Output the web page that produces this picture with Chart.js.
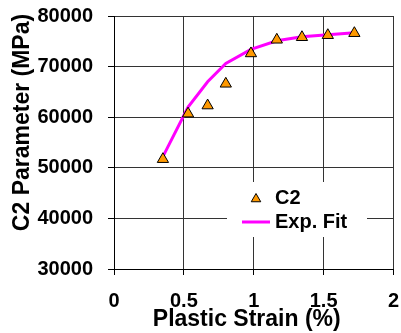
<!DOCTYPE html>
<html lang="en">
<head>
<meta charset="UTF-8">
<title>C2 Parameter vs Plastic Strain</title>
<script src="https://cdn.jsdelivr.net/npm/chart.js"></script>
<style>
  html,body{margin:0;padding:0;background:#fff;overflow:hidden}
  #wrap{width:401px;height:333px;position:relative}
</style>
</head>
<body>
<div id="wrap"><canvas id="chart"></canvas></div>
<script>
// plastic strain (%) and measured C2 (MPa)
const strain=[0.35,0.53,0.67,0.80,0.98,1.165,1.345,1.53,1.72];
const c2Values=[51700,60700,62300,66600,72600,75300,75800,76200,76600];
// exponential fit evaluated at the same strains
const fitValues=[52200,62000,67000,70600,73400,75100,75900,76300,76700];

const xTicks=[0,0.5,1,1.5,2];
const yTicks=[30000,40000,50000,60000,70000,80000];

const FONT='"Liberation Sans", Arial, sans-serif';
const ORANGE='#FF9900';
const MAGENTA='#FF00FF';

// axis titles + inside legend, drawn by hand like the Excel original
const decor={
  id:'decor',
  afterDraw(chart){
    const ctx=chart.ctx, a=chart.chartArea;
    ctx.save();
    ctx.fillStyle='#000';
    ctx.font='bold 23px '+FONT;
    ctx.textAlign='center';
    ctx.textBaseline='middle';
    // x title
    ctx.fillText('Plastic Strain (%)',(a.left+a.right)/2-7,a.bottom+51);
    // y title
    ctx.translate(a.left-91,(a.top+a.bottom)/2-20);
    ctx.rotate(-Math.PI/2);
    ctx.fillText('C2 Parameter (MPa)',0,0);
    ctx.restore();

    // legend box
    const lx=a.left+113, ly=a.top+166;
    const ds=chart.data.datasets;
    ctx.save();
    ctx.fillStyle='#fff';
    ctx.fillRect(lx,ly,140,55);
    ctx.fillStyle=ORANGE;ctx.strokeStyle='#000';ctx.lineWidth=1;
    ctx.beginPath();
    Chart.helpers.drawPoint(ctx,{pointStyle:'triangle',radius:5.5,borderWidth:1},lx+29,ly+17);
    ctx.strokeStyle=MAGENTA;ctx.lineWidth=3;
    ctx.beginPath();ctx.moveTo(lx+15,ly+40);ctx.lineTo(lx+43,ly+40);ctx.stroke();
    ctx.fillStyle='#000';
    ctx.font='bold 20px '+FONT;
    ctx.textAlign='left';ctx.textBaseline='middle';
    ctx.fillText(ds[0].label,lx+48,ly+16);
    ctx.fillText(ds[1].label,lx+48,ly+40);
    ctx.restore();
  }
};

new Chart(document.getElementById('chart'),{
  type:'scatter',
  data:{
    datasets:[
      {
        label:'C2',
        data:strain.map((x,i)=>({x,y:c2Values[i]})),
        pointStyle:'triangle',
        pointRadius:6.5,
        pointHoverRadius:6.5,
        backgroundColor:ORANGE,
        borderColor:'#000',
        borderWidth:1,
        showLine:false
      },
      {
        label:'Exp. Fit',
        data:strain.map((x,i)=>({x,y:fitValues[i]})),
        showLine:true,
        borderColor:MAGENTA,
        borderWidth:3,
        pointRadius:0,
        tension:0
      }
    ]
  },
  options:{
    responsive:true,
    maintainAspectRatio:false,
    animation:false,
    layout:{padding:{top:16,right:6,left:0,bottom:0}},
    plugins:{legend:{display:false},tooltip:{enabled:false}},
    scales:{
      x:{
        type:'linear',min:0,max:2,
        afterBuildTicks:s=>{s.ticks=xTicks.map(v=>({value:v}));},
        afterFit:s=>{s.height=64;s.paddingLeft=0;s.paddingRight=0;},
        grid:{color:'#333',tickColor:'#000',tickLength:6},
        border:{color:'#000'},
        ticks:{padding:14,color:'#000',font:{family:FONT,size:20,weight:'bold'},
          callback:v=>String(v),maxRotation:0}
      },
      y:{
        min:30000,max:80000,
        afterBuildTicks:s=>{s.ticks=yTicks.map(v=>({value:v}));},
        afterFit:s=>{s.width=114;s.paddingTop=0;s.paddingBottom=0;},
        grid:{color:'#333',tickColor:'#000',tickLength:6},
        border:{color:'#000'},
        ticks:{padding:15,color:'#000',font:{family:FONT,size:20,weight:'bold'},
          callback:v=>String(v)}
      }
    }
  },
  plugins:[decor]
});
</script>
</body>
</html>
